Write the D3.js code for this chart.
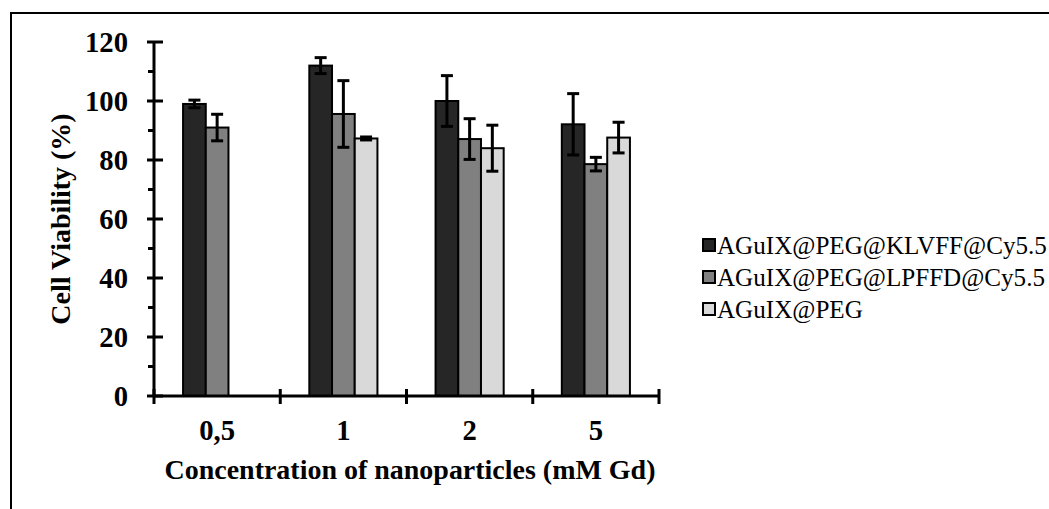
<!DOCTYPE html>
<html><head><meta charset="utf-8">
<script src="https://cdn.jsdelivr.net/npm/d3@7"></script>
<style>body{margin:0;background:#fff}svg{display:block}</style>
</head><body>
<script>
const categories = ["0,5", "1", "2", "5"];
const seriesNames = ["AGuIX@PEG@KLVFF@Cy5.5", "AGuIX@PEG@LPFFD@Cy5.5", "AGuIX@PEG"];
const klvff = [99.0, 112.0, 100.0, 92.1];
const klvffErr = [1.3, 2.7, 8.6, 10.4];
const lpffd = [91.0, 95.6, 87.1, 78.6];
const lpffdErr = [4.5, 11.3, 6.9, 2.3];
const peg = [null, 87.3, 84.0, 87.6];
const pegErr = [null, 0.5, 7.8, 5.2];
const yTicks = [0, 20, 40, 60, 80, 100, 120];
const seriesColors = ["#262626", "#808080", "#d9d9d9"];

const W = 1049, H = 509;
const FONT = "'Liberation Serif', serif";
const svg = d3.select("body").append("svg").attr("width", W).attr("height", H);
svg.append("rect").attr("width", W).attr("height", H).attr("fill", "#fff");
svg.append("rect").attr("x", 11).attr("y", 13).attr("width", 1100).attr("height", 600)
  .attr("fill", "none").attr("stroke", "#000").attr("stroke-width", 2);

const values = [klvff, lpffd, peg], errs = [klvffErr, lpffdErr, pegErr];
const x0 = d3.scaleBand().domain(categories).range([154, 659]);
const x1 = d3.scaleBand().domain(d3.range(3)).range([0, x0.bandwidth()]).paddingOuter(1.28);
const y = d3.scaleLinear().domain([0, 120]).range([396, 42]);

function fit(sel, target) {
  let fs = +sel.attr("font-size");
  const w = sel.node().getComputedTextLength();
  sel.attr("font-size", fs * target / w);
  return fs * target / w;
}

// bars
const g = svg.append("g");
values.forEach((vals, s) => {
  categories.forEach((c, i) => {
    const v = vals[i];
    if (v == null) return;
    g.append("rect").attr("x", x0(c) + x1(s)).attr("y", y(v))
      .attr("width", x1.bandwidth()).attr("height", y(0) - y(v))
      .attr("fill", seriesColors[s]).attr("stroke", "#000").attr("stroke-width", 2);
  });
});
// error bars
values.forEach((vals, s) => {
  categories.forEach((c, i) => {
    const v = vals[i], e = errs[s][i];
    if (v == null) return;
    const cx = x0(c) + x1(s) + x1.bandwidth() / 2;
    const eg = g.append("g").attr("stroke", "#000").attr("stroke-width", 3);
    eg.append("line").attr("x1", cx).attr("x2", cx).attr("y1", y(v + e)).attr("y2", y(v - e));
    [v + e, v - e].forEach(t => eg.append("line").attr("x1", cx - 6).attr("x2", cx + 6).attr("y1", y(t)).attr("y2", y(t)));
  });
});

// y axis
const ya = svg.append("g");
ya.append("line").attr("x1", 154).attr("x2", 154).attr("y1", y(120)).attr("y2", y(0)).attr("stroke", "#000").attr("stroke-width", 3);
yTicks.forEach(t => {
  ya.append("line").attr("x1", 147).attr("x2", 163).attr("y1", y(t)).attr("y2", y(t)).attr("stroke", "#000").attr("stroke-width", 3);
});
d3.range(10, 120, 20).forEach(t => {
  ya.append("line").attr("x1", 148).attr("x2", 154).attr("y1", y(t)).attr("y2", y(t)).attr("stroke", "#000").attr("stroke-width", 3);
});
const t120 = ya.append("text").attr("font-family", FONT).attr("font-weight", "bold").attr("font-size", 20).text("120");
const tickFs = fit(t120, 43);
t120.remove();
yTicks.forEach(t => {
  ya.append("text").attr("x", 128).attr("y", y(t)).attr("dy", "0.35em").attr("text-anchor", "end")
    .attr("font-family", FONT).attr("font-weight", "bold").attr("font-size", tickFs).text(t);
});

// x axis
const xa = svg.append("g");
xa.append("line").attr("x1", 154).attr("x2", 659).attr("y1", y(0)).attr("y2", y(0)).attr("stroke", "#000").attr("stroke-width", 3);
[...categories.map(c => x0(c)), x0.range()[1]].forEach(px => {
  xa.append("line").attr("x1", px).attr("x2", px).attr("y1", y(0) - 7).attr("y2", y(0) + 8).attr("stroke", "#000").attr("stroke-width", 3);
});
categories.forEach(c => {
  xa.append("text").attr("x", x0(c) + x0.bandwidth() / 2).attr("y", 440).attr("text-anchor", "middle")
    .attr("font-family", FONT).attr("font-weight", "bold").attr("font-size", tickFs).text(c);
});

// titles
const xt = svg.append("text").attr("x", 410).attr("y", 479).attr("text-anchor", "middle")
  .attr("font-family", FONT).attr("font-weight", "bold").attr("font-size", 20)
  .text("Concentration of nanoparticles (mM Gd)");
const titleFs = fit(xt, 491);
svg.append("text").attr("transform", "translate(70,219) rotate(-90)").attr("text-anchor", "middle")
  .attr("font-family", FONT).attr("font-weight", "bold").attr("font-size", titleFs)
  .text("Cell Viability (%)");

// legend
const lg = svg.append("g");
const probe = lg.append("text").attr("font-family", FONT).attr("font-size", 20).text(seriesNames[0]);
const legFs = fit(probe, 330);
probe.remove();
const legY = [245, 277, 309];
seriesNames.forEach((n, s) => {
  lg.append("rect").attr("x", 703).attr("y", legY[s] - 6).attr("width", 12).attr("height", 12)
    .attr("fill", seriesColors[s]).attr("stroke", "#000").attr("stroke-width", 2);
  lg.append("text").attr("x", 717).attr("y", legY[s]).attr("dy", "0.35em")
    .attr("font-family", FONT).attr("font-size", legFs).text(n);
});
</script>
</body></html>
